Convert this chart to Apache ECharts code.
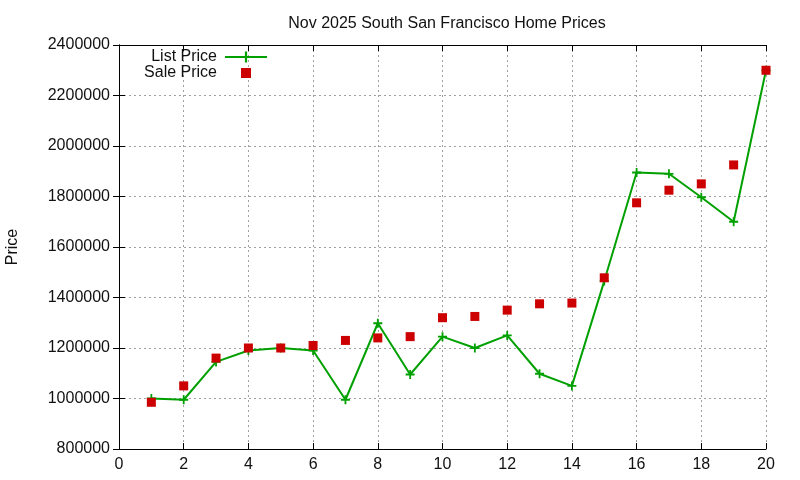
<!DOCTYPE html>
<html>
<head>
<meta charset="utf-8">
<script src="https://cdn.jsdelivr.net/npm/echarts@6/dist/echarts.min.js"></script>
<style>
  html, body { margin: 0; padding: 0; background: #fff; }
  #chart { width: 800px; height: 480px; }
</style>
</head>
<body>
<div id="chart"></div>
<script>
// data
let days = [1, 2, 3, 4, 5, 6, 7, 8, 9, 10, 11, 12, 13, 14, 15, 16, 17, 18, 19, 20];
let listPrice = [1000000, 995000, 1145000, 1190000, 1200000, 1190000, 995000, 1298000, 1095000, 1245000,
                 1200000, 1250000, 1098000, 1050000, 1465000, 1895000, 1890000, 1797000, 1700000, 2300000];
let salePrice = [985000, 1050000, 1160000, 1200000, 1200000, 1210000, 1230000, 1240000, 1245000, 1320000,
                 1325000, 1350000, 1375000, 1378000, 1478000, 1775000, 1825000, 1850000, 1925000, 2300000];

let titleText = 'Nov 2025 South San Francisco Home Prices';
let fontName = 'Liberation Sans, Arial, sans-serif';

function toPairs(xs, ys) {
    let out = [];
    for (let i = 0; i < xs.length; i++) {
        out.push([xs[i], ys[i]]);
    }
    return out;
}

let myChart = echarts.init(document.getElementById('chart'));

let gridLine = { show: true, lineStyle: { color: '#a0a0a0', type: [2, 3], width: 1 } };
let boxLine = { show: true, lineStyle: { color: '#000', width: 1 } };
let tick = { show: true, inside: true, length: 6, lineStyle: { color: '#000' } };
let plusIcon = 'path://M4,0H6V4H10V6H6V10H4V6H0V4H4Z';

let option = {
    animation: false,
    textStyle: { fontFamily: fontName },
    title: {
        text: titleText,
        left: 442,
        textAlign: 'center',
        top: 11,
        textStyle: { fontSize: 16, fontWeight: 'normal', color: '#111', fontFamily: fontName }
    },
    legend: [
        {
            data: ['List Price'],
            orient: 'vertical',
            align: 'right',
            right: 527,
            top: 44,
            itemWidth: 42,
            itemHeight: 14,
            textStyle: { fontSize: 16, color: '#111', fontFamily: fontName, padding: [0, 3, 0, 0] }
        },
        {
            data: ['Sale Price'],
            orient: 'vertical',
            align: 'right',
            right: 544,
            top: 60,
            itemWidth: 10,
            itemHeight: 10,
            textStyle: { fontSize: 16, color: '#111', fontFamily: fontName, padding: [0, 19, 0, 0] }
        }
    ],
    grid: { left: 119, right: 34, top: 45, bottom: 31, outerBoundsMode: 'none', containLabel: false },
    xAxis: [
        {
            type: 'value',
            min: 0,
            max: 20,
            interval: 2,
            axisLine: boxLine,
            axisTick: tick,
            splitLine: gridLine,
            axisLabel: { fontSize: 16, color: '#111', margin: 8, fontFamily: fontName }
        },
        {
            type: 'value',
            position: 'top',
            min: 0,
            max: 20,
            interval: 2,
            axisLine: boxLine,
            axisTick: tick,
            splitLine: { show: false },
            axisLabel: { show: false }
        }
    ],
    yAxis: [
        {
            type: 'value',
            name: 'Price',
            nameLocation: 'middle',
            nameGap: 98,
            nameTextStyle: { fontSize: 16, color: '#111', fontFamily: fontName },
            min: 800000,
            max: 2400000,
            interval: 200000,
            axisLine: boxLine,
            axisTick: tick,
            splitLine: gridLine,
            axisLabel: {
                fontSize: 16, color: '#111', margin: 9, fontFamily: fontName,
                formatter: function (v) { return String(v); }
            }
        },
        {
            type: 'value',
            position: 'right',
            min: 800000,
            max: 2400000,
            interval: 200000,
            axisLine: boxLine,
            axisTick: tick,
            splitLine: { show: false },
            axisLabel: { show: false }
        }
    ],
    series: [
        {
            name: 'List Price',
            type: 'line',
            data: toPairs(days, listPrice),
            symbol: plusIcon,
            symbolSize: 9,
            showAllSymbol: true,
            lineStyle: { color: '#00a000', width: 2 },
            itemStyle: { color: '#00a000' },
            z: 3
        },
        {
            name: 'Sale Price',
            type: 'scatter',
            data: toPairs(days, salePrice),
            symbol: 'rect',
            symbolSize: 9,
            itemStyle: { color: '#cc0000', opacity: 1 },
            z: 4
        }
    ]
};

myChart.setOption(option);
</script>
</body>
</html>
